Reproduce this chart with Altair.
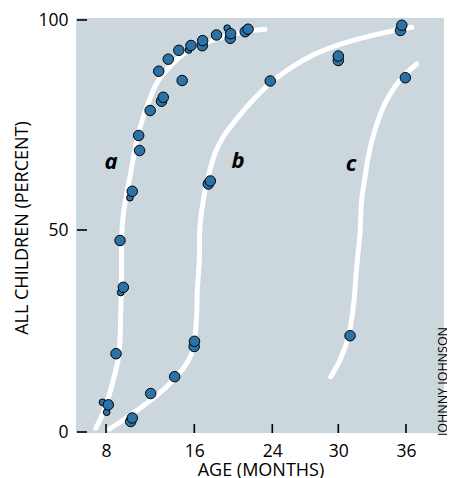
import altair as alt
import pandas as pd

# ---- tick values ----
x_ticks = [8, 16, 24, 30, 36]
y_ticks = [0, 50, 100]

# ---- observed points: age (months), percent of children, marker size class ----
a_age = [7.68, 8.06, 8.21, 8.91, 9.33, 9.57, 9.27, 10.17, 10.38, 11.04, 10.96, 12.0, 13.03, 13.19,
         12.78, 13.64, 14.6, 14.9, 15.49, 15.70, 16.82, 16.86, 18.28, 19.38, 19.69, 19.73, 21.22, 21.51]
a_pct = [7.35, 4.90, 6.73, 19.38, 34.53, 35.81, 47.40, 57.69, 59.21, 68.93, 72.50, 78.45, 80.67, 81.60,
         87.81, 90.67, 92.79, 85.60, 92.86, 93.93, 93.88, 95.10, 96.43, 98.05, 95.64, 96.74, 97.21, 97.81]
a_cls = ["s", "s", "l", "l", "s", "l", "l", "s", "l", "l", "l", "l", "l", "l",
         "l", "l", "l", "l", "s", "l", "l", "l", "l", "s", "l", "l", "l", "l"]

b_age = [10.24, 10.38, 12.05, 14.22, 15.99, 16.02, 17.44, 17.64, 23.79, 30.0, 30.0, 35.51, 35.63]
b_pct = [2.60, 3.47, 9.53, 13.69, 21.16, 22.45, 60.95, 61.67, 85.48, 90.36, 91.43, 97.50, 98.76]

c_age = [31.04, 35.94]
c_pct = [23.83, 86.26]

# ---- fitted curves ----
curve_a_age = [7.07, 7.52, 8.06, 8.66, 9.09, 9.27, 9.33, 9.39, 9.42, 9.51, 9.72, 10.17, 10.56, 11.02,
               11.49, 11.83, 12.59, 13.50, 14.70, 15.91, 17.95, 19.66, 21.71, 23.25]
curve_a_pct = [0.92, 3.39, 7.10, 12.87, 17.82, 22.77, 29.38, 35.15, 47.52, 52.38, 56.36, 62.69, 68.26, 73.81,
               77.79, 80.17, 84.93, 88.10, 91.26, 93.26, 95.24, 96.43, 97.38, 97.79]
curve_b_age = [8.30, 9.57, 11.69, 13.50, 15.0, 15.76, 16.07, 16.25, 16.31, 16.51, 16.58, 16.92, 17.44,
               18.12, 18.97, 20.0, 21.71, 23.76, 25.61, 28.04, 30.44, 32.81, 35.18, 36.51]
curve_b_pct = [0.74, 2.97, 7.10, 11.21, 15.77, 19.48, 23.59, 29.38, 35.15, 42.57, 50.79, 57.14, 62.69,
               68.26, 72.21, 75.41, 80.17, 84.93, 88.50, 92.07, 94.45, 96.19, 97.62, 98.26]
curve_c_age = [29.31, 30.15, 30.89, 31.33, 31.63, 31.92, 32.07, 32.37, 32.66, 33.25, 34.14, 35.47, 36.95]
curve_c_pct = [13.69, 17.82, 23.59, 31.01, 40.91, 49.18, 57.14, 62.69, 67.45, 73.81, 80.17, 85.71, 89.52]

# ---- curve labels ----
label_text = ["a", "b", "c"]
label_age = [8.45, 20.48, 31.13]
label_pct = [64.45, 64.69, 64.0]

credit = "JOHNNY JOHNSON"

# ---- tables ----
pts = pd.DataFrame({
    "age": a_age + b_age + c_age,
    "pct": a_pct + b_pct + c_pct,
    "cls": a_cls + ["l"] * len(b_age) + ["l"] * len(c_age),
})
pts["rank"] = (pts["cls"] == "l").astype(int)
pts = pts.sort_values("rank", kind="stable").reset_index(drop=True)

curves = pd.DataFrame({
    "age": curve_a_age + curve_b_age + curve_c_age,
    "pct": curve_a_pct + curve_b_pct + curve_c_pct,
    "curve": ["a"] * len(curve_a_age) + ["b"] * len(curve_b_age) + ["c"] * len(curve_c_age),
    "seq": list(range(len(curve_a_age))) + list(range(len(curve_b_age))) + list(range(len(curve_c_age))),
})
labels = pd.DataFrame({"t": label_text, "age": label_age, "pct": label_pct})
xt = pd.DataFrame({"age": x_ticks})
yt = pd.DataFrame({"pct": y_ticks})

W, H = 368, 415
FONT = "Open Sans"

x_scale = alt.Scale(domain=[5.28, 8, 16, 24, 30, 36, 39.37],
                    range=[0, 30, 118.3, 196.3, 262.3, 330, W], nice=False, zero=False)
y_scale = alt.Scale(domain=[-0.25, 0, 50, 100, 100.48],
                    range=[H, 414, 212, 2, 0], nice=False, zero=False)

x_axis = alt.Axis(values=x_ticks, title="AGE (MONTHS)", domain=False, ticks=False, tickSize=0,
                  grid=False, labelFont=FONT, labelFontSize=17.5, labelColor="black",
                  labelBaseline="alphabetic", labelPadding=23, labelFlush=False,
                  titleFont=FONT, titleFontSize=18, titleFontWeight="normal", titleColor="black",
                  titleBaseline="alphabetic", titleX=184.5, titleY=42)
y_axis = alt.Axis(values=y_ticks, title="ALL CHILDREN (PERCENT)", domain=False, ticks=False,
                  tickSize=0, grid=False, labelFont=FONT, labelFontSize=17.5, labelColor="black",
                  labelPadding=8, labelFlush=False, titleFont=FONT, titleFontSize=18,
                  titleFontWeight="normal", titleColor="black", titleBaseline="alphabetic",
                  titleAngle=270, titleAlign="center", titleX=-48.5, titleY=209.5)

lines = alt.Chart(curves).mark_line(color="white", strokeWidth=5, interpolate="catmull-rom",
                                    strokeCap="round").encode(
    x=alt.X("age:Q", scale=x_scale, axis=x_axis),
    y=alt.Y("pct:Q", scale=y_scale, axis=y_axis),
    detail="curve:N",
    order="seq:Q",
)

ytick_marks = alt.Chart(yt).mark_rule(color="black", strokeWidth=1.6).encode(
    y=alt.Y("pct:Q", scale=y_scale),
    x=alt.value(1), x2=alt.value(11),
)
xtick_marks = alt.Chart(xt).mark_rule(color="black", strokeWidth=1.6).encode(
    x=alt.X("age:Q", scale=x_scale),
    y=alt.value(H - 9), y2=alt.value(H),
)

dots = alt.Chart(pts).mark_point(filled=True, fill="#2b72a6", stroke="black", strokeWidth=1,
                                 opacity=1).encode(
    x=alt.X("age:Q", scale=x_scale),
    y=alt.Y("pct:Q", scale=y_scale),
    size=alt.Size("cls:N", scale=alt.Scale(domain=["s", "l"], range=[45, 110]), legend=None),
    order=alt.Order("rank:Q"),
)

txt = alt.Chart(labels).mark_text(font=FONT, fontSize=22, fontStyle="italic", fontWeight="bold",
                                  color="black", align="center", baseline="alphabetic").encode(
    x=alt.X("age:Q", scale=x_scale),
    y=alt.Y("pct:Q", scale=y_scale),
    text="t:N",
)

credit_mark = alt.Chart(pd.DataFrame({"t": [credit]})).mark_text(
    font=FONT, fontSize=12.5, angle=270, color="black", align="center", baseline="alphabetic"
).encode(text="t:N", x=alt.value(W + 3), y=alt.value(363.5))

chart = alt.layer(lines, ytick_marks, xtick_marks, dots, txt, credit_mark).properties(
    width=W, height=H,
    autosize=alt.AutoSizeParams(type="none"),
    padding={"left": 68, "top": 10, "right": 3, "bottom": 45},
    background="white",
).configure_view(fill="#cbd6dd", strokeWidth=0)

chart.save("out.html", embed_options={"renderer": "svg", "actions": False})
